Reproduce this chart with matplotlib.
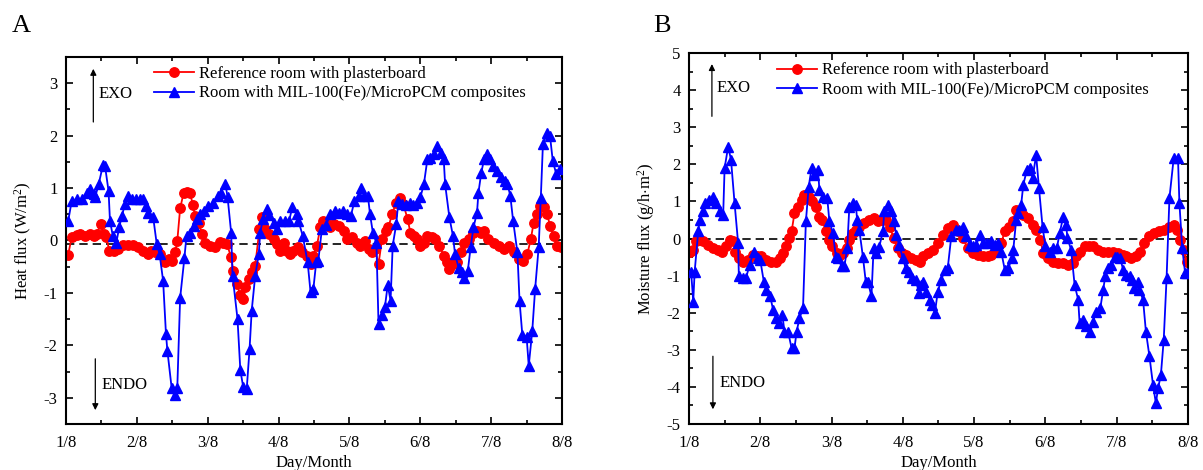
import numpy as np
import matplotlib
matplotlib.use('Agg')
import matplotlib.pyplot as plt
from matplotlib.ticker import MultipleLocator

plt.rcParams['font.family'] = ['Liberation Serif', 'DejaVu Serif']
plt.rcParams['mathtext.fontset'] = 'custom'
plt.rcParams['mathtext.rm'] = 'Liberation Serif'
plt.rcParams['mathtext.it'] = 'Liberation Serif:italic'
plt.rcParams['axes.unicode_minus'] = False

#day labels on x axis
day_labels = ['1/8', '2/8', '3/8', '4/8', '5/8', '6/8', '7/8', '8/8']

#heat flux, reference room (day, W/m2)
heat_ref_day = [0.03, 0.08, 0.15, 0.20, 0.27, 0.34, 0.39, 0.43, 0.49, 0.53, 0.57, 0.61, 0.67, 0.74,
                0.81, 0.88, 0.95, 1.02, 1.09, 1.15, 1.20, 1.26, 1.33, 1.40, 1.45, 1.49, 1.54, 1.57,
                1.61, 1.66, 1.70, 1.75, 1.79, 1.82, 1.87, 1.92, 1.96, 2.03, 2.10, 2.17, 2.22, 2.27,
                2.33, 2.36, 2.41, 2.46, 2.50, 2.53, 2.58, 2.62, 2.67, 2.73, 2.76, 2.81, 2.86, 2.93,
                2.98, 3.02, 3.07, 3.12, 3.16, 3.21, 3.27, 3.33, 3.40, 3.46, 3.49, 3.54, 3.59, 3.63,
                3.67, 3.72, 3.78, 3.85, 3.92, 3.97, 4.03, 4.11, 4.15, 4.22, 4.27, 4.32, 4.36, 4.41,
                4.46, 4.51, 4.55, 4.60, 4.66, 4.71, 4.76, 4.82, 4.86, 4.91, 4.95, 5.00, 5.05, 5.10,
                5.17, 5.21, 5.27, 5.33, 5.38, 5.41, 5.46, 5.52, 5.57, 5.62, 5.68, 5.75, 5.80, 5.85,
                5.90, 5.96, 6.04, 6.11, 6.18, 6.25, 6.32, 6.39, 6.45, 6.51, 6.56, 6.60, 6.64, 6.69,
                6.74, 6.79, 6.83, 6.88, 6.93, 6.98]
heat_ref_val = [-0.27, 0.06, 0.10, 0.12, 0.09, 0.12, 0.08, 0.12, 0.31, 0.12, 0.06, -0.20, -0.20, -0.16,
                -0.09, -0.09, -0.09, -0.13, -0.20, -0.26, -0.20, -0.23, -0.26, -0.42, -0.35, -0.39, -0.23, -0.01,
                0.61, 0.91, 0.93, 0.91, 0.67, 0.47, 0.34, 0.12, -0.04, -0.11, -0.13, -0.03, -0.04, -0.07,
                -0.32, -0.58, -0.83, -1.05, -1.12, -0.89, -0.74, -0.61, -0.48, 0.22, 0.44, 0.22, 0.12, 0.03,
                -0.07, -0.20, -0.04, -0.20, -0.26, -0.20, -0.13, -0.23, -0.29, -0.45, -0.29, -0.10, 0.25, 0.37,
                0.34, 0.25, 0.31, 0.28, 0.18, 0.03, 0.06, -0.04, -0.10, -0.01, -0.16, -0.23, -0.16, -0.45,
                0.03, 0.18, 0.25, 0.50, 0.72, 0.80, 0.69, 0.41, 0.15, 0.09, 0.03, -0.10, -0.04, 0.09,
                0.06, 0.03, -0.10, -0.29, -0.42, -0.54, -0.45, -0.42, -0.22, -0.04, 0.03, 0.15, 0.18, 0.15,
                0.18, 0.03, -0.04, -0.10, -0.16, -0.10, -0.23, -0.35, -0.39, -0.26, 0.03, 0.34, 0.50, 0.66,
                0.63, 0.50, 0.28, 0.09, -0.10, -0.13]

#heat flux, room with MIL-100(Fe)/MicroPCM
heat_pcm_day = [0.03, 0.08, 0.15, 0.22, 0.29, 0.34, 0.39, 0.41, 0.46, 0.52, 0.55, 0.60, 0.62, 0.66,
                0.71, 0.75, 0.79, 0.83, 0.87, 0.93, 0.99, 1.05, 1.09, 1.13, 1.16, 1.23, 1.28, 1.32,
                1.37, 1.41, 1.43, 1.49, 1.54, 1.57, 1.61, 1.67, 1.70, 1.75, 1.80, 1.85, 1.89, 1.95,
                2.01, 2.08, 2.14, 2.18, 2.25, 2.28, 2.33, 2.35, 2.42, 2.46, 2.50, 2.55, 2.59, 2.62,
                2.67, 2.72, 2.74, 2.78, 2.83, 2.87, 2.93, 2.98, 3.02, 3.09, 3.15, 3.19, 3.26, 3.28,
                3.34, 3.41, 3.45, 3.49, 3.53, 3.56, 3.61, 3.67, 3.73, 3.79, 3.85, 3.91, 3.96, 4.02,
                4.07, 4.13, 4.16, 4.21, 4.26, 4.29, 4.33, 4.38, 4.41, 4.46, 4.50, 4.54, 4.58, 4.61,
                4.66, 4.69, 4.74, 4.80, 4.86, 4.90, 4.95, 5.00, 5.05, 5.10, 5.14, 5.20, 5.24, 5.29,
                5.33, 5.35, 5.41, 5.46, 5.49, 5.54, 5.59, 5.62, 5.67, 5.71, 5.75, 5.80, 5.82, 5.86,
                5.90, 5.94, 5.99, 6.03, 6.08, 6.14, 6.19, 6.23, 6.27, 6.31, 6.37, 6.40, 6.44, 6.50,
                6.53, 6.58, 6.62, 6.67, 6.70, 6.73, 6.79, 6.83, 6.87, 6.92, 6.97]
heat_pcm_val = [0.37, 0.75, 0.79, 0.79, 0.90, 0.98, 0.88, 0.82, 1.07, 1.43, 1.42, 0.94, 0.37, 0.09,
                -0.04, 0.25, 0.47, 0.69, 0.85, 0.79, 0.79, 0.79, 0.79, 0.66, 0.53, 0.44, -0.07, -0.26,
                -0.77, -1.78, -2.10, -2.81, -2.94, -2.81, -1.10, -0.34, 0.09, 0.15, 0.28, 0.41, 0.50, 0.56,
                0.65, 0.72, 0.85, 0.91, 1.07, 0.82, 0.15, -0.67, -1.50, -2.48, -2.79, -2.83, -2.07, -1.34,
                -0.67, -0.26, 0.15, 0.41, 0.60, 0.48, 0.34, 0.22, 0.37, 0.37, 0.37, 0.63, 0.50, 0.37,
                0.09, -0.42, -0.98, -0.93, -0.42, -0.39, 0.21, 0.29, 0.50, 0.56, 0.53, 0.56, 0.50, 0.47,
                0.75, 0.85, 0.99, 0.85, 0.85, 0.50, 0.15, -0.05, -1.59, -1.43, -1.27, -0.85, -1.15, -0.10,
                0.31, 0.75, 0.69, 0.67, 0.71, 0.67, 0.72, 0.82, 1.07, 1.55, 1.58, 1.64, 1.80, 1.67,
                1.55, 1.07, 0.44, 0.09, -0.26, -0.52, -0.61, -0.71, -0.58, -0.13, 0.25, 0.53, 0.91, 1.29,
                1.55, 1.64, 1.55, 1.42, 1.32, 1.20, 1.13, 1.07, 0.85, 0.37, -0.23, -1.15, -1.81, -1.84,
                -2.39, -1.72, -0.93, -0.13, 0.80, 1.83, 2.05, 1.99, 1.51, 1.26, 1.36]

#moisture flux, reference room (day, g/h.m2)
moist_ref_day = [0.02, 0.06, 0.10, 0.15, 0.20, 0.27, 0.34, 0.41, 0.47, 0.52, 0.57, 0.62, 0.65, 0.70,
                 0.76, 0.83, 0.90, 0.95, 1.01, 1.08, 1.15, 1.22, 1.28, 1.32, 1.36, 1.40, 1.44, 1.48,
                 1.53, 1.58, 1.62, 1.68, 1.73, 1.78, 1.82, 1.87, 1.92, 1.96, 2.01, 2.07, 2.11, 2.16,
                 2.21, 2.25, 2.30, 2.35, 2.39, 2.46, 2.53, 2.59, 2.65, 2.71, 2.77, 2.82, 2.87, 2.93,
                 2.99, 3.05, 3.12, 3.19, 3.24, 3.29, 3.35, 3.42, 3.49, 3.56, 3.63, 3.70, 3.77, 3.84,
                 3.91, 3.98, 4.05, 4.12, 4.19, 4.24, 4.31, 4.38, 4.43, 4.49, 4.54, 4.59, 4.64, 4.69,
                 4.76, 4.82, 4.87, 4.93, 4.97, 5.04, 5.11, 5.18, 5.25, 5.32, 5.39, 5.43, 5.49, 5.55,
                 5.61, 5.67, 5.74, 5.81, 5.88, 5.95, 6.02, 6.09, 6.13, 6.20, 6.27, 6.33, 6.39, 6.46,
                 6.53, 6.60, 6.67, 6.74, 6.80, 6.84, 6.89, 6.94, 6.98]
moist_ref_val = [-0.35, -0.31, -0.08, -0.04, -0.08, -0.17, -0.26, -0.30, -0.35, -0.21, -0.04, -0.08, -0.35, -0.53,
                 -0.62, -0.57, -0.44, -0.48, -0.48, -0.57, -0.62, -0.62, -0.53, -0.38, -0.21, 0.01, 0.19, 0.68,
                 0.86, 1.04, 1.18, 1.13, 1.00, 0.86, 0.59, 0.50, 0.19, -0.04, -0.21, -0.40, -0.48, -0.40,
                 -0.26, -0.04, 0.14, 0.23, 0.32, 0.41, 0.50, 0.55, 0.46, 0.50, 0.50, 0.32, 0.01, -0.26,
                 -0.40, -0.44, -0.53, -0.57, -0.62, -0.48, -0.40, -0.30, -0.12, 0.10, 0.28, 0.37, 0.19, 0.01,
                 -0.26, -0.40, -0.44, -0.48, -0.48, -0.44, -0.35, -0.12, 0.19, 0.32, 0.46, 0.77, 0.68, 0.64,
                 0.55, 0.37, 0.23, -0.04, -0.40, -0.53, -0.62, -0.66, -0.66, -0.71, -0.66, -0.48, -0.35, -0.21,
                 -0.20, -0.21, -0.30, -0.35, -0.35, -0.35, -0.40, -0.44, -0.48, -0.53, -0.48, -0.35, -0.12, 0.06,
                 0.14, 0.19, 0.23, 0.32, 0.37, 0.23, -0.04, -0.30, -0.62]

#moisture flux, room with MIL-100(Fe)/MicroPCM
moist_pcm_day = [0.03, 0.06, 0.08, 0.13, 0.15, 0.20, 0.23, 0.28, 0.34, 0.38, 0.44, 0.48, 0.50, 0.55,
                 0.59, 0.64, 0.69, 0.70, 0.76, 0.80, 0.85, 0.91, 0.97, 1.00, 1.05, 1.08, 1.14, 1.18,
                 1.22, 1.26, 1.31, 1.34, 1.39, 1.44, 1.48, 1.51, 1.55, 1.60, 1.64, 1.68, 1.72, 1.76,
                 1.81, 1.83, 1.88, 1.94, 1.97, 2.02, 2.06, 2.09, 2.14, 2.18, 2.22, 2.25, 2.30, 2.34,
                 2.36, 2.39, 2.44, 2.48, 2.51, 2.56, 2.59, 2.63, 2.67, 2.72, 2.74, 2.79, 2.84, 2.87,
                 2.91, 2.95, 3.00, 3.04, 3.09, 3.13, 3.18, 3.23, 3.26, 3.29, 3.33, 3.38, 3.41, 3.45,
                 3.49, 3.54, 3.59, 3.63, 3.68, 3.74, 3.79, 3.84, 3.89, 3.94, 3.98, 4.03, 4.08, 4.12,
                 4.18, 4.24, 4.29, 4.33, 4.38, 4.43, 4.48, 4.53, 4.55, 4.59, 4.62, 4.66, 4.69, 4.74,
                 4.79, 4.82, 4.87, 4.91, 4.96, 5.00, 5.06, 5.11, 5.16, 5.20, 5.25, 5.29, 5.31, 5.36,
                 5.41, 5.46, 5.48, 5.53, 5.57, 5.63, 5.67, 5.71, 5.77, 5.81, 5.84, 5.88, 5.92, 5.97,
                 6.00, 6.05, 6.09, 6.13, 6.18, 6.22, 6.25, 6.30, 6.32, 6.37, 6.41, 6.46, 6.51, 6.55,
                 6.58, 6.62, 6.66, 6.70, 6.74, 6.80, 6.86, 6.88, 6.92, 6.96, 6.99]
moist_pcm_val = [-0.89, -1.70, -0.89, 0.19, 0.50, 0.73, 0.95, 1.04, 1.13, 0.95, 0.73, 0.64, 1.90, 2.48,
                 2.12, 0.95, -0.13, -1.02, -1.07, -1.07, -0.71, -0.35, -0.53, -0.58, -1.16, -1.38, -1.56, -1.92,
                 -2.15, -2.28, -2.06, -2.51, -2.51, -2.96, -2.96, -2.51, -2.15, -1.88, 0.46, 1.40, 1.90, 1.72,
                 1.85, 1.31, 1.13, 1.09, 0.46, 0.14, -0.49, -0.53, -0.75, -0.75, -0.26, 0.86, 0.95, 0.91,
                 0.50, 0.23, -0.49, -1.16, -1.16, -1.56, -0.26, -0.40, -0.22, 0.19, 0.73, 0.91, 0.73, 0.46,
                 0.10, -0.17, -0.53, -0.80, -0.89, -1.07, -1.12, -1.48, -1.25, -1.16, -1.43, -1.65, -1.79, -2.01,
                 -1.43, -1.11, -0.84, -0.80, 0.06, 0.23, 0.23, 0.32, 0.06, -0.17, -0.21, -0.17, 0.10, -0.12,
                 -0.12, -0.08, -0.17, -0.12, -0.35, -0.84, -0.80, -0.53, -0.30, 0.50, 0.68, 0.91, 1.45, 1.85,
                 1.90, 1.63, 2.25, 1.36, 0.32, -0.21, -0.35, -0.26, -0.26, 0.14, 0.59, 0.37, 0.01, -0.30,
                 -1.25, -1.65, -2.28, -2.19, -2.37, -2.51, -2.24, -1.97, -1.88, -1.38, -1.02, -0.80, -0.71, -0.49,
                 -0.49, -0.53, -0.84, -0.98, -1.02, -1.11, -1.34, -1.16, -1.38, -1.65, -2.51, -3.18, -3.95, -4.44,
                 -4.04, -3.68, -2.73, -1.07, 1.09, 2.17, 2.17, 0.95, -0.26, -0.93, -0.93]

font_size = 12


def draw_panel(fig, rect, ref_x, ref_y, pcm_x, pcm_y, ylim, ylabel, zero, letter, letter_x,
               legend_xy, exo, endo):
    ax = fig.add_axes(rect)
    ax.axhline(zero, color='black', linestyle=(0, (5, 3)), linewidth=1.2, zorder=1)
    ax.plot(ref_x, ref_y, color='red', marker='o', markersize=6.8, linewidth=1.3,
            label='Reference room with plasterboard', zorder=2)
    ax.plot(pcm_x, pcm_y, color='blue', marker='^', markersize=7.5, linewidth=1.3,
            label='Room with MIL-100(Fe)/MicroPCM composites', zorder=3)

    ax.set_xlim(0, 7)
    ax.set_ylim(*ylim)
    ax.set_xticks(range(8))
    ax.set_xticklabels(day_labels)
    ax.xaxis.set_minor_locator(MultipleLocator(0.5))
    ax.yaxis.set_major_locator(MultipleLocator(1))
    ax.yaxis.set_minor_locator(MultipleLocator(0.5))
    ax.tick_params(which='both', direction='in', top=True, right=True, labelsize=font_size, width=1.2)
    ax.tick_params(which='major', length=5)
    ax.tick_params(axis='x', which='major', pad=8)
    ax.tick_params(axis='y', which='major', pad=6)
    ax.tick_params(which='minor', length=3)
    for s in ax.spines.values():
        s.set_linewidth(1.5)

    ax.set_xlabel('Day/Month', fontsize=font_size, labelpad=3)
    ax.set_ylabel(ylabel, fontsize=font_size, labelpad=7)

    ax.legend(loc='upper left', bbox_to_anchor=legend_xy, frameon=False, fontsize=font_size,
              handlelength=2.4, handletextpad=0.3, labelspacing=0.2, borderpad=0, borderaxespad=0)

    #EXO / ENDO arrows
    ax.annotate('', xy=(exo[0], exo[2]), xytext=(exo[0], exo[1]), xycoords='axes fraction',
                arrowprops=dict(arrowstyle='-|>', color='black', lw=0.9, mutation_scale=9))
    ax.text(exo[0] + 0.01, exo[3], 'EXO', transform=ax.transAxes, fontsize=font_size, va='center')
    ax.annotate('', xy=(endo[0], endo[2]), xytext=(endo[0], endo[1]), xycoords='axes fraction',
                arrowprops=dict(arrowstyle='-|>', color='black', lw=0.9, mutation_scale=9))
    ax.text(endo[0] + 0.013, endo[3], 'ENDO', transform=ax.transAxes, fontsize=font_size, va='center')

    fig.text(letter_x, 0.945, letter, fontsize=19, ha='center', va='center')
    return ax


fig = plt.figure(figsize=(12.03, 4.70), dpi=100)

draw_panel(fig, [0.0549, 0.098, 0.4123, 0.781], heat_ref_day, heat_ref_val, heat_pcm_day, heat_pcm_val,
           (-3.5, 3.5), 'Heat flux (W/m$^{2}$)', -0.07, 'A', 0.018,
           (0.178, 0.975), (0.055, 0.815, 0.975, 0.90), (0.059, 0.185, 0.03, 0.105))

draw_panel(fig, [0.5727, 0.098, 0.4148, 0.789], moist_ref_day, moist_ref_val, moist_pcm_day, moist_pcm_val,
           (-5, 5), 'Moisture flux (g/h$\\cdot$m$^{2}$)', 0.0, 'B', 0.55,
           (0.176, 0.975), (0.046, 0.822, 0.978, 0.906), (0.048, 0.19, 0.032, 0.11))

plt.savefig('out.png', dpi=100)
